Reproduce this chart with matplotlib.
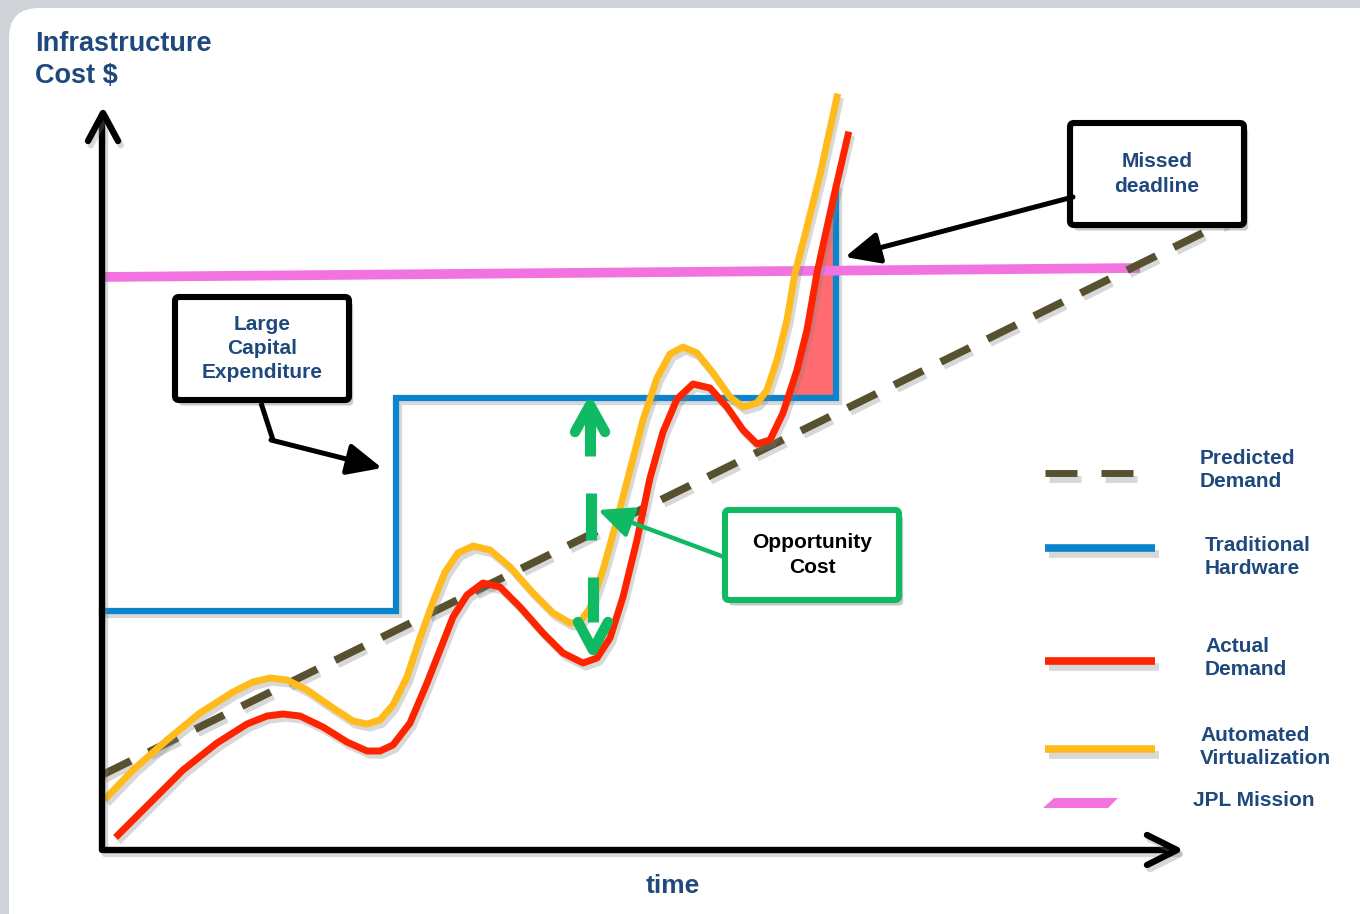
import matplotlib
matplotlib.use("Agg")
import matplotlib.pyplot as plt
import matplotlib.patheffects as pe
from matplotlib.patches import FancyBboxPatch, Polygon
import numpy as np

plt.rcParams["font.family"] = ["Liberation Sans", "DejaVu Sans"]

# Curves (pixel coords, y grows downwards)
actual_x = [118, 150, 183, 217, 247, 267, 283, 300, 323, 347, 367, 380, 393, 410, 427, 440,
            453, 467, 483, 500, 520, 543, 563, 583, 597, 610, 623, 637, 650, 663, 677, 693,
            710, 727, 743, 757, 770, 783, 797, 807, 817, 833, 848]
actual_y = [835, 803, 770, 743, 724, 716, 714, 716, 727, 742, 751, 751, 745, 723, 683, 650,
            617, 595, 583, 587, 607, 633, 653, 663, 658, 638, 597, 540, 478, 432, 399, 384,
            388, 407, 430, 444, 440, 413, 370, 330, 273, 200, 135]

virt_x = [107, 133, 167, 200, 233, 253, 270, 287, 307, 333, 353, 367, 380, 393, 407, 420,
          433, 445, 458, 473, 490, 510, 533, 553, 570, 580, 590, 603, 617, 630, 643, 657,
          670, 683, 697, 713, 730, 743, 757, 767, 777, 787, 795, 805, 820, 837]
virt_y = [797, 770, 740, 713, 692, 682, 678, 680, 690, 708, 721, 724, 720, 705, 677, 638,
          602, 572, 553, 546, 550, 567, 593, 613, 623, 622, 608, 570, 520, 470, 420, 378,
          354, 347, 353, 373, 397, 407, 403, 390, 360, 320, 273, 235, 175, 97]

predicted_x = [102, 1225]
predicted_y = [775, 222]

hardware_x = [102, 396, 396, 836, 836]
hardware_y = [611, 611, 398, 398, 187]

mission_x = [100, 1140]
mission_y = [277, 268]

legend_labels = ["Predicted\nDemand", "Traditional\nHardware", "Actual\nDemand",
                 "Automated\nVirtualization", "JPL Mission"]

# Colours
NAVY = "#1f497d"
OLIVE = "#57512f"
BLUE = "#0a85cc"
RED = "#ff2400"
YELLOW = "#ffbb1c"
PINK = "#f272df"
GREEN = "#10b964"
FILL = "#ff6b70"

fig = plt.figure(figsize=(13.6, 9.14), dpi=100, facecolor="#cfd2d6")
ax = fig.add_axes([0, 0, 1, 1])
ax.set_xlim(0, 1360)
ax.set_ylim(914, 0)
ax.axis("off")

# white rounded panel
ax.add_patch(FancyBboxPatch((9, 8), 1400, 940, boxstyle="round,pad=0,rounding_size=30",
                            facecolor="white", edgecolor="none", zorder=0))

shadow = [pe.SimpleLineShadow(offset=(2, -3), shadow_color="gray", alpha=0.3), pe.Normal()]

# red shortfall area between actual demand and hardware capacity
seg_x = np.array(actual_x[36:])
seg_y = np.array(actual_y[36:])
yy = np.linspace(187, 398, 60)
xx = np.interp(yy, seg_y[::-1], seg_x[::-1])
ax.fill_betweenx(yy, xx, 836, color=FILL, lw=0, zorder=1)

# traditional hardware
ax.plot(hardware_x, hardware_y, color=BLUE, lw=4.5, solid_joinstyle="miter", zorder=2,
        path_effects=shadow)

# JPL mission
ax.plot(mission_x, mission_y, color=PINK, lw=7, solid_capstyle="butt", zorder=3)

# predicted demand
ax.plot(predicted_x, predicted_y, color=OLIVE, lw=5.5, dashes=(4.2, 2.6),
        dash_capstyle="butt", zorder=3, path_effects=shadow)

# actual demand + automated virtualization
ax.plot(actual_x, actual_y, color=RED, lw=5, solid_joinstyle="round", zorder=4,
        path_effects=shadow)
ax.plot(virt_x, virt_y, color=YELLOW, lw=5, solid_joinstyle="round", zorder=4,
        path_effects=shadow)

# axes with open arrow heads
ax_kw = dict(color="black", lw=4.6, solid_capstyle="round", solid_joinstyle="round",
             zorder=6, path_effects=shadow)
ax.plot([102, 102, 1176], [115, 850, 850], **ax_kw)
ax.plot([88, 103, 118], [141, 113, 141], **ax_kw)
ax.plot([1147, 1177, 1147], [835, 850, 865], **ax_kw)

# opportunity cost double arrow (dashed)
g_kw = dict(color=GREEN, lw=8, solid_capstyle="butt", zorder=7)
ax.plot([590, 590], [412, 456], **g_kw)
ax.plot([591, 591], [493, 540], **g_kw)
ax.plot([593, 593], [577, 622], **g_kw)
ax.plot([575, 590, 605], [432, 405, 432], color=GREEN, lw=7.5, solid_capstyle="round",
        solid_joinstyle="round", zorder=7)
ax.plot([578, 593, 608], [622, 650, 622], color=GREEN, lw=7.5, solid_capstyle="round",
        solid_joinstyle="round", zorder=7)


def callout(x0, y0, w, h, text, edge, tcolor):
    ax.add_patch(FancyBboxPatch((x0, y0), w, h, boxstyle="round,pad=0,rounding_size=4",
                                facecolor="white", edgecolor=edge, lw=4.4, zorder=8,
                                path_effects=[pe.SimplePatchShadow(offset=(3, -4), alpha=0.3),
                                              pe.Normal()]))
    ax.text(x0 + w / 2, y0 + h / 2, text, ha="center", va="center", fontsize=15,
            fontweight="bold", color=tcolor, linespacing=1.35, zorder=9)


def pointer(start, tip, color, lw=3.6):
    ax.annotate("", xy=tip, xytext=start, zorder=8,
                arrowprops=dict(arrowstyle="-|>,head_length=0.7,head_width=0.32",
                                mutation_scale=30, lw=lw, color=color,
                                shrinkA=0, shrinkB=0))


# Large capital expenditure
callout(175, 297, 174, 103, "Large\nCapital\nExpenditure", "black", NAVY)
ax.plot([261, 273], [403, 440], color="black", lw=3.6, solid_capstyle="butt", zorder=8)
pointer((271, 440), (382, 468), "black")

# Missed deadline
callout(1070, 123, 174, 102, "Missed\ndeadline", "black", NAVY)
pointer((1073, 197), (845, 257), "black")

# Opportunity cost
callout(725, 510, 174, 90, "Opportunity\nCost", GREEN, "black")
pointer((724, 557), (598, 510), GREEN, lw=3.2)

# titles
ax.text(35, 31, "Infrastructure\nCost $", ha="left", va="top", fontsize=19.5,
        fontweight="bold", color=NAVY, linespacing=1.3)
ax.text(673, 886, "time", ha="center", va="center", fontsize=19,
        fontweight="bold", color=NAVY)

# legend
leg_shadow = [pe.SimpleLineShadow(offset=(3, -4), shadow_color="gray", alpha=0.3), pe.Normal()]
ax.plot([1045, 1077], [473, 473], color=OLIVE, lw=5, solid_capstyle="butt", path_effects=leg_shadow)
ax.plot([1101, 1133], [473, 473], color=OLIVE, lw=5, solid_capstyle="butt", path_effects=leg_shadow)
ax.plot([1045, 1155], [548, 548], color=BLUE, lw=5.5, solid_capstyle="butt", path_effects=leg_shadow)
ax.plot([1045, 1155], [661, 661], color=RED, lw=5.5, solid_capstyle="butt", path_effects=leg_shadow)
ax.plot([1045, 1155], [749, 749], color=YELLOW, lw=5.5, solid_capstyle="butt", path_effects=leg_shadow)
ax.add_patch(Polygon([(1043, 808), (1054, 798), (1118, 798), (1108, 808)], closed=True,
                     facecolor=PINK, edgecolor="none"))

legend_pos = [(1200, 470), (1205, 557), (1205, 658), (1200, 747), (1193, 801)]
for (lx, ly), lab in zip(legend_pos, legend_labels):
    ax.text(lx, ly, lab, ha="left", va="center", fontsize=15, fontweight="bold",
            color=NAVY, linespacing=1.3)

fig.savefig("out.png", dpi=100, facecolor=fig.get_facecolor())
